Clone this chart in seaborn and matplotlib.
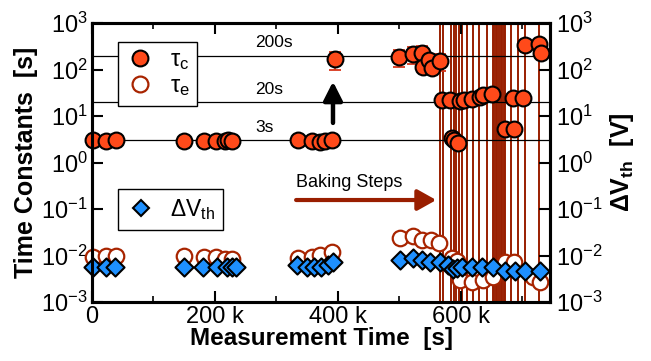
import matplotlib
matplotlib.use("Agg")
import matplotlib.pyplot as plt
from matplotlib.lines import Line2D
from matplotlib.ticker import FixedLocator, MultipleLocator, LogLocator, NullLocator
import pandas as pd
import seaborn as sns

# ---- data (times in ks) ----
tau_c_time = [1, 22, 39, 150, 182, 202, 216, 221, 228, 335, 358, 371, 379, 390,
              395, 499, 522, 537, 538, 548, 553, 566,
              569, 582, 598, 605, 618, 631, 636, 650, 685, 701,
              585, 589, 595, 672, 686,
              704, 727, 730]
tau_c_val = [3.0, 2.9, 3.1, 2.9, 2.9, 2.9, 2.9, 3.0, 2.9, 3.0, 2.9, 2.8, 2.9, 3.0,
             168, 186, 215, 226, 113, 160, 108, 152,
             22, 22, 21, 22, 23, 26, 28, 30, 24, 24,
             3.4, 3.0, 2.6, 5.2, 5.2,
             336, 353, 226]

err_time = [395, 499, 522, 537, 566]
err_val = [168, 186, 215, 226, 152]
err_low = [70, 75, 85, 90, 60]

tau_e_time = [1, 22, 39, 150, 182, 202, 216, 228, 335, 358, 371, 390,
              501, 522, 537, 551, 564,
              585, 593, 598, 618, 636, 652, 672, 686, 717, 728]
tau_e_val = [0.0095, 0.0098, 0.0098, 0.0098, 0.0093, 0.0093, 0.0085, 0.0085,
             0.0088, 0.0093, 0.0102, 0.0119,
             0.024, 0.026, 0.022, 0.022, 0.019,
             0.0090, 0.0075, 0.0030, 0.0027, 0.0030, 0.0035, 0.0072, 0.0072,
             0.0035, 0.0027]

dvth_time = [1, 22, 37, 150, 180, 203, 220, 228, 234,
             333, 350, 361, 372, 384, 392,
             501, 522, 537, 550, 566, 579, 587, 593, 602, 618, 634, 652,
             672, 688, 704, 728]
dvth_val = [0.0057, 0.0057, 0.0057, 0.0057, 0.0057, 0.0057, 0.0057, 0.0057, 0.0057,
            0.0062, 0.0058, 0.0058, 0.0058, 0.0064, 0.0074,
            0.0080, 0.0088, 0.0080, 0.0073, 0.0073, 0.0064, 0.0050, 0.0053,
            0.0057, 0.0057, 0.0057, 0.0057, 0.0046, 0.0046, 0.0046, 0.0046]

bake_times = [566.7, 570.7, 584.5, 588.6, 592.7, 596.7, 601.6, 609.7, 619.5,
              629.2, 642.2, 652, 654.5, 657, 659.5, 662, 664.5, 667, 669.5,
              671.5, 681.3, 692.7, 704, 726.8]

ref_levels = [3, 20, 200]
ref_labels = ["3s", "20s", "200s"]

x_tick_vals = [0, 200, 400, 600]
x_tick_labels = ["0", "200 k", "400 k", "600 k"]

# ---- style ----
sns.set_theme(style="ticks")
plt.rcParams["font.family"] = ["Liberation Sans", "DejaVu Sans"]
plt.rcParams["mathtext.fontset"] = "custom"
plt.rcParams["mathtext.rm"] = "Liberation Sans"
plt.rcParams["mathtext.it"] = "Liberation Sans:italic"
plt.rcParams["mathtext.bf"] = "Liberation Sans:bold"
plt.rcParams["axes.unicode_minus"] = False
for key in ["text.color", "axes.labelcolor", "xtick.color", "ytick.color",
            "axes.edgecolor"]:
    plt.rcParams[key] = "black"

C_FILL = "#FF4A1A"
C_OPEN = "#A82400"
C_BAKE = "#991E00"
C_DIAM = "#1E90FF"

fig = plt.figure(figsize=(6.51, 3.61), dpi=100)
ax = fig.add_axes([92 / 651, 1 - 302 / 361, 458 / 651, 279 / 361])

df_c = pd.DataFrame({"t": [v * 1e3 for v in tau_c_time], "v": tau_c_val})
df_e = pd.DataFrame({"t": [v * 1e3 for v in tau_e_time], "v": tau_e_val})
df_d = pd.DataFrame({"t": [v * 1e3 for v in dvth_time], "v": dvth_val})

# baking steps and reference levels
for t in bake_times:
    ax.axvline(t * 1e3, color=C_BAKE, lw=1.4, zorder=0.5)
for lvl, lab in zip(ref_levels, ref_labels):
    ax.axhline(lvl, color="black", lw=0.9, zorder=1)
    ax.text(265e3, lvl * 1.3, lab, fontsize=12.5, ha="left", va="bottom", zorder=1.5)

# error bars on capture time constants
ax.errorbar([t * 1e3 for t in err_time], err_val, yerr=[err_low, err_low],
            fmt="none", ecolor="#D8361A", elinewidth=1.3, capsize=4, capthick=1.3,
            zorder=2.5)

sns.scatterplot(data=df_e, x="t", y="v", ax=ax, marker="o", s=125,
                facecolor="white", edgecolor=C_OPEN, linewidth=1.6,
                zorder=2, clip_on=False, legend=False)
sns.scatterplot(data=df_d, x="t", y="v", ax=ax, marker="D", s=85,
                color=C_DIAM, edgecolor="black", linewidth=1.5,
                zorder=3, clip_on=False, legend=False)
sns.scatterplot(data=df_c, x="t", y="v", ax=ax, marker="o", s=130,
                color=C_FILL, edgecolor="black", linewidth=1.5,
                zorder=4, clip_on=False, legend=False)

# arrows
ax.annotate("", xy=(392e3, 55), xytext=(392e3, 7.1),
            arrowprops=dict(arrowstyle="-|>,head_length=0.75,head_width=0.38",
                            color="black", lw=3.2, mutation_scale=15,
                            shrinkA=0, shrinkB=0), zorder=5)
ax.annotate("", xy=(560e3, 0.156), xytext=(332e3, 0.156),
            arrowprops=dict(arrowstyle="-|>,head_length=0.75,head_width=0.42",
                            color=C_BAKE, lw=3.0, mutation_scale=15,
                            shrinkA=0, shrinkB=0), zorder=5)
ax.text(332e3, 0.24, "Baking Steps", fontsize=13, ha="left", va="bottom")

# axes
ax.set_yscale("log")
ax.set_ylim(1e-3, 1e3)
ax.set_xlim(0, 745e3)
ax.xaxis.set_major_locator(FixedLocator([v * 1e3 for v in x_tick_vals]))
ax.set_xticklabels(x_tick_labels)
ax.xaxis.set_minor_locator(MultipleLocator(100e3))
ax.yaxis.set_major_locator(LogLocator(base=10, numticks=10))
ax.yaxis.set_minor_locator(NullLocator())
ax.tick_params(axis="both", which="major", direction="in", length=8, width=1.5,
               labelsize=17, top=True, right=False, pad=3)
ax.tick_params(axis="x", which="minor", direction="in", length=4, width=1.2,
               top=True)
for s in ax.spines.values():
    s.set_linewidth(2.2)
ax.set_xlabel("Measurement Time  [s]", fontsize=17.5, fontweight="bold", labelpad=-1)
ax.set_ylabel("Time Constants  [s]", fontsize=18, fontweight="bold", labelpad=2)

ax2 = ax.twinx()
ax2.set_yscale("log")
ax2.set_ylim(1e-3, 1e3)
ax2.yaxis.set_major_locator(LogLocator(base=10, numticks=10))
ax2.yaxis.set_minor_locator(NullLocator())
ax2.tick_params(axis="y", which="major", direction="in", length=8, width=1.5,
                labelsize=17, pad=4)
for s in ax2.spines.values():
    s.set_linewidth(2.2)
ax2.set_ylabel(r"ΔV$_\mathregular{th}$  [V]", fontsize=18, fontweight="bold",
               rotation=90, labelpad=4)

# legends
h_c = Line2D([], [], ls="none", marker="o", ms=11.4, mfc=C_FILL, mec="black", mew=1.5)
h_e = Line2D([], [], ls="none", marker="o", ms=11.4, mfc="white", mec=C_OPEN, mew=1.6)
h_d = Line2D([], [], ls="none", marker="D", ms=8.5, mfc=C_DIAM, mec="black", mew=1.5)

leg1 = ax.legend([h_c, h_e], [r"τ$_\mathregular{c}$", r"τ$_\mathregular{e}$"],
                 loc="upper left", bbox_to_anchor=(118 / 651, 1 - 42 / 361),
                 bbox_transform=fig.transFigure, borderaxespad=0, fancybox=False,
                 framealpha=1, edgecolor="black", fontsize=17, handlelength=1.3,
                 handletextpad=0.6, borderpad=0.3, labelspacing=0.15)
leg1.get_frame().set_linewidth(1.0)
leg1.set_zorder(6)
ax.add_artist(leg1)
leg2 = ax.legend([h_d], [r"ΔV$_\mathregular{th}$"],
                 loc="upper left", bbox_to_anchor=(118 / 651, 1 - 189 / 361),
                 bbox_transform=fig.transFigure, borderaxespad=0, fancybox=False,
                 framealpha=1, edgecolor="black", fontsize=16.5, handlelength=1.3,
                 handletextpad=0.6, borderpad=0.35)
leg2.get_frame().set_linewidth(1.0)
leg2.set_zorder(6)

fig.savefig("out.png", dpi=100)
